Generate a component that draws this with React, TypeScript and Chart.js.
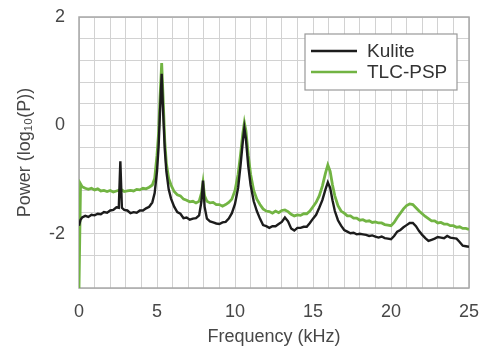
import React, { useEffect, useRef } from "react";
import { Chart, registerables } from "chart.js";

Chart.register(...registerables);

// Frequency (kHz)
const freq = [
  0, 0.1, 0.2, 0.4, 0.6, 0.8, 1.0, 1.2, 1.4, 1.6,
  1.8, 2.0, 2.2, 2.4, 2.55, 2.65, 2.75, 2.9, 3.1, 3.3,
  3.5, 3.7, 3.9, 4.1, 4.3, 4.5, 4.7, 4.85, 5.0, 5.1,
  5.2, 5.3, 5.4, 5.5, 5.6, 5.75, 5.9, 6.1, 6.3, 6.5,
  6.7, 6.9, 7.1, 7.3, 7.5, 7.7, 7.85, 7.95, 8.05, 8.2,
  8.4, 8.6, 8.8, 9.0, 9.2, 9.4, 9.6, 9.8, 10.0, 10.2,
  10.35, 10.5, 10.6, 10.7, 10.85, 11.0, 11.2, 11.4, 11.6, 11.8,
  12.0, 12.2, 12.4, 12.6, 12.8, 13.0, 13.2, 13.4, 13.6, 13.8,
  14.0, 14.2, 14.4, 14.6, 14.8, 15.0, 15.2, 15.4, 15.6, 15.8,
  15.95, 16.1, 16.25, 16.4, 16.6, 16.8, 17.0, 17.2, 17.4, 17.6,
  17.8, 18.0, 18.2, 18.4, 18.6, 18.8, 19.0, 19.2, 19.4, 19.6,
  19.8, 20.0, 20.2, 20.4, 20.6, 20.8, 21.0, 21.2, 21.4, 21.6,
  21.8, 22.0, 22.2, 22.4, 22.6, 22.8, 23.0, 23.2, 23.4, 23.6,
  23.8, 24.0, 24.2, 24.4, 24.6, 24.8, 25.0,
];

// Power, log10(P)
const kulite = [
  -1.85, -1.74, -1.70, -1.67, -1.69, -1.65, -1.66, -1.63, -1.64, -1.60,
  -1.61, -1.57, -1.56, -1.51, -1.52, -0.66, -1.52, -1.56, -1.57, -1.62,
  -1.60, -1.61, -1.57, -1.57, -1.53, -1.50, -1.42, -1.25, -0.85, -0.40,
  0.30, 0.95, 0.20, -0.45, -0.85, -1.18, -1.35, -1.50, -1.60, -1.63,
  -1.71, -1.70, -1.74, -1.72, -1.71, -1.66, -1.40, -1.02, -1.50, -1.72,
  -1.77, -1.79, -1.81, -1.82, -1.79, -1.78, -1.72, -1.62, -1.45, -1.15,
  -0.75, -0.30, -0.05, -0.25, -0.75, -1.10, -1.40, -1.58, -1.72, -1.84,
  -1.86, -1.89, -1.86, -1.86, -1.82, -1.78, -1.70, -1.77, -1.90, -1.94,
  -1.89, -1.89, -1.87, -1.87, -1.80, -1.72, -1.65, -1.52, -1.38, -1.18,
  -1.05, -1.15, -1.38, -1.58, -1.75, -1.85, -1.93, -1.96, -1.99, -1.98,
  -2.01, -2.00, -2.01, -2.02, -2.04, -2.03, -2.05, -2.07, -2.05, -2.08,
  -2.09, -2.10, -2.04, -1.96, -1.93, -1.88, -1.84, -1.80, -1.80, -1.86,
  -1.95, -2.02, -2.08, -2.13, -2.11, -2.09, -2.06, -2.07, -2.08, -2.04,
  -2.07, -2.08, -2.09, -2.15, -2.22, -2.23, -2.24,
];

const tlcPsp = [
  -3.0, -1.08, -1.13, -1.16, -1.18, -1.16, -1.19, -1.17, -1.21, -1.20,
  -1.22, -1.20, -1.23, -1.21, -1.20, -1.18, -1.19, -1.22, -1.21, -1.20,
  -1.21, -1.18, -1.19, -1.16, -1.17, -1.14, -1.10, -0.98, -0.55, -0.15,
  0.55, 1.15, 0.45, -0.30, -0.70, -0.98, -1.10, -1.22, -1.28, -1.30,
  -1.36, -1.38, -1.41, -1.40, -1.43, -1.40, -1.25, -1.05, -1.30, -1.40,
  -1.43, -1.42, -1.46, -1.46, -1.49, -1.46, -1.42, -1.36, -1.20, -0.90,
  -0.55, -0.15, 0.05, -0.10, -0.55, -0.90, -1.20, -1.36, -1.46, -1.54,
  -1.58, -1.59, -1.62, -1.58, -1.61, -1.57, -1.56, -1.59, -1.64, -1.67,
  -1.65, -1.66, -1.63, -1.63, -1.58, -1.50, -1.42, -1.30, -1.12, -0.88,
  -0.73, -0.85, -1.10, -1.30, -1.48, -1.58, -1.62, -1.67, -1.67, -1.71,
  -1.71, -1.75, -1.74, -1.77, -1.76, -1.79, -1.78, -1.80, -1.80, -1.83,
  -1.84, -1.85, -1.79, -1.70, -1.62, -1.54, -1.48, -1.45, -1.46, -1.52,
  -1.58, -1.63, -1.68, -1.72, -1.76, -1.76, -1.80, -1.79, -1.82, -1.82,
  -1.85, -1.85, -1.88, -1.87, -1.90, -1.90, -1.92,
];

const seriesNames = ["Kulite", "TLC-PSP"];
const xTickLabels = [0, 5, 10, 15, 20, 25];
const yTickLabels = [2, 0, -2];

const FONT = "'Liberation Sans', Arial, sans-serif";
const TEXT = "#474747";
const GRID = "#d2d2d2";

const boxPlugin = {
  id: "plotBox",
  beforeDatasetsDraw(chart: any) {
    const { ctx, chartArea: a } = chart;
    ctx.save();
    ctx.strokeStyle = "#a8a8a8";
    ctx.lineWidth = 1.5;
    ctx.strokeRect(a.left, a.top, a.right - a.left, a.bottom - a.top);
    ctx.restore();
  },
};

const legendPlugin = {
  id: "insetLegend",
  afterDraw(chart: any) {
    const { ctx } = chart;
    const x0 = 305, y0 = 34, w = 152, h = 56;
    ctx.save();
    ctx.fillStyle = "#fff";
    ctx.fillRect(x0, y0, w, h);
    ctx.strokeStyle = "#999";
    ctx.lineWidth = 1.2;
    ctx.strokeRect(x0, y0, w, h);
    ctx.font = `19px ${FONT}`;
    ctx.textBaseline = "middle";
    chart.data.datasets.forEach((ds: any, i: number) => {
      const y = y0 + 17 + i * 21;
      ctx.strokeStyle = ds.borderColor;
      ctx.lineWidth = 2.5;
      ctx.beginPath();
      ctx.moveTo(x0 + 6, y);
      ctx.lineTo(x0 + 52, y);
      ctx.stroke();
      ctx.fillStyle = "#333";
      ctx.fillText(ds.label, x0 + 62, y + 1);
    });
    ctx.restore();
  },
};

export default function App() {
  const ref = useRef<HTMLCanvasElement | null>(null);

  useEffect(() => {
    if (!ref.current) return;
    const mk = (vals: number[]) => freq.map((f, i) => ({ x: f, y: vals[i] }));
    const chart = new Chart(ref.current, {
      type: "line",
      data: {
        datasets: [
          {
            label: seriesNames[0],
            data: mk(kulite),
            borderColor: "#1c1c1c",
            borderWidth: 2.4,
            pointRadius: 0,
            tension: 0,
          },
          {
            label: seriesNames[1],
            data: mk(tlcPsp),
            borderColor: "#72b443",
            borderWidth: 2.8,
            pointRadius: 0,
            tension: 0,
          },
        ],
      },
      options: {
        animation: false,
        responsive: true,
        maintainAspectRatio: false,
        layout: { padding: { top: 17, right: 27, left: 0, bottom: 0 } },
        plugins: { legend: { display: false }, tooltip: { enabled: false } },
        scales: {
          x: {
            type: "linear",
            min: 0,
            max: 25,
            border: { display: false },
            grid: { color: GRID, lineWidth: 1, drawTicks: false },
            ticks: {
              stepSize: 1,
              autoSkip: false,
              maxRotation: 0,
              padding: 13,
              color: TEXT,
              font: { family: FONT, size: 18 },
              callback: (v: any) =>
                xTickLabels.some((t) => Math.abs(t - v) < 1e-6) ? String(v) : "",
            },
            title: {
              display: true,
              text: "Frequency (kHz)",
              color: TEXT,
              font: { family: FONT, size: 18 },
              padding: { top: 0, bottom: 2 },
            },
            afterFit: (s: any) => {
              s.height = 62;
              s.paddingLeft = 0;
              s.paddingRight = 0;
            },
          },
          y: {
            type: "linear",
            min: -3,
            max: 2,
            border: { display: false },
            grid: { color: GRID, lineWidth: 1, drawTicks: false },
            ticks: {
              stepSize: 0.4,
              autoSkip: false,
              padding: 14,
              color: TEXT,
              font: { family: FONT, size: 18 },
              callback: (v: any) =>
                yTickLabels.some((t) => Math.abs(t - v) < 1e-6) ? String(Math.round(v)) : "",
            },
            title: {
              display: true,
              text: "Power (log₁₀(P))",
              color: TEXT,
              font: { family: FONT, size: 18 },
              padding: { top: 14, bottom: 0 },
            },
            afterFit: (s: any) => {
              s.width = 79;
              s.paddingTop = 0;
              s.paddingBottom = 0;
            },
          },
        },
      },
      plugins: [boxPlugin, legendPlugin],
    });
    return () => chart.destroy();
  }, []);

  return (
    <div style={{ position: "fixed", left: 0, top: 0, width: 496, height: 350, background: "#fff" }}>
      <canvas ref={ref} />
    </div>
  );
}
